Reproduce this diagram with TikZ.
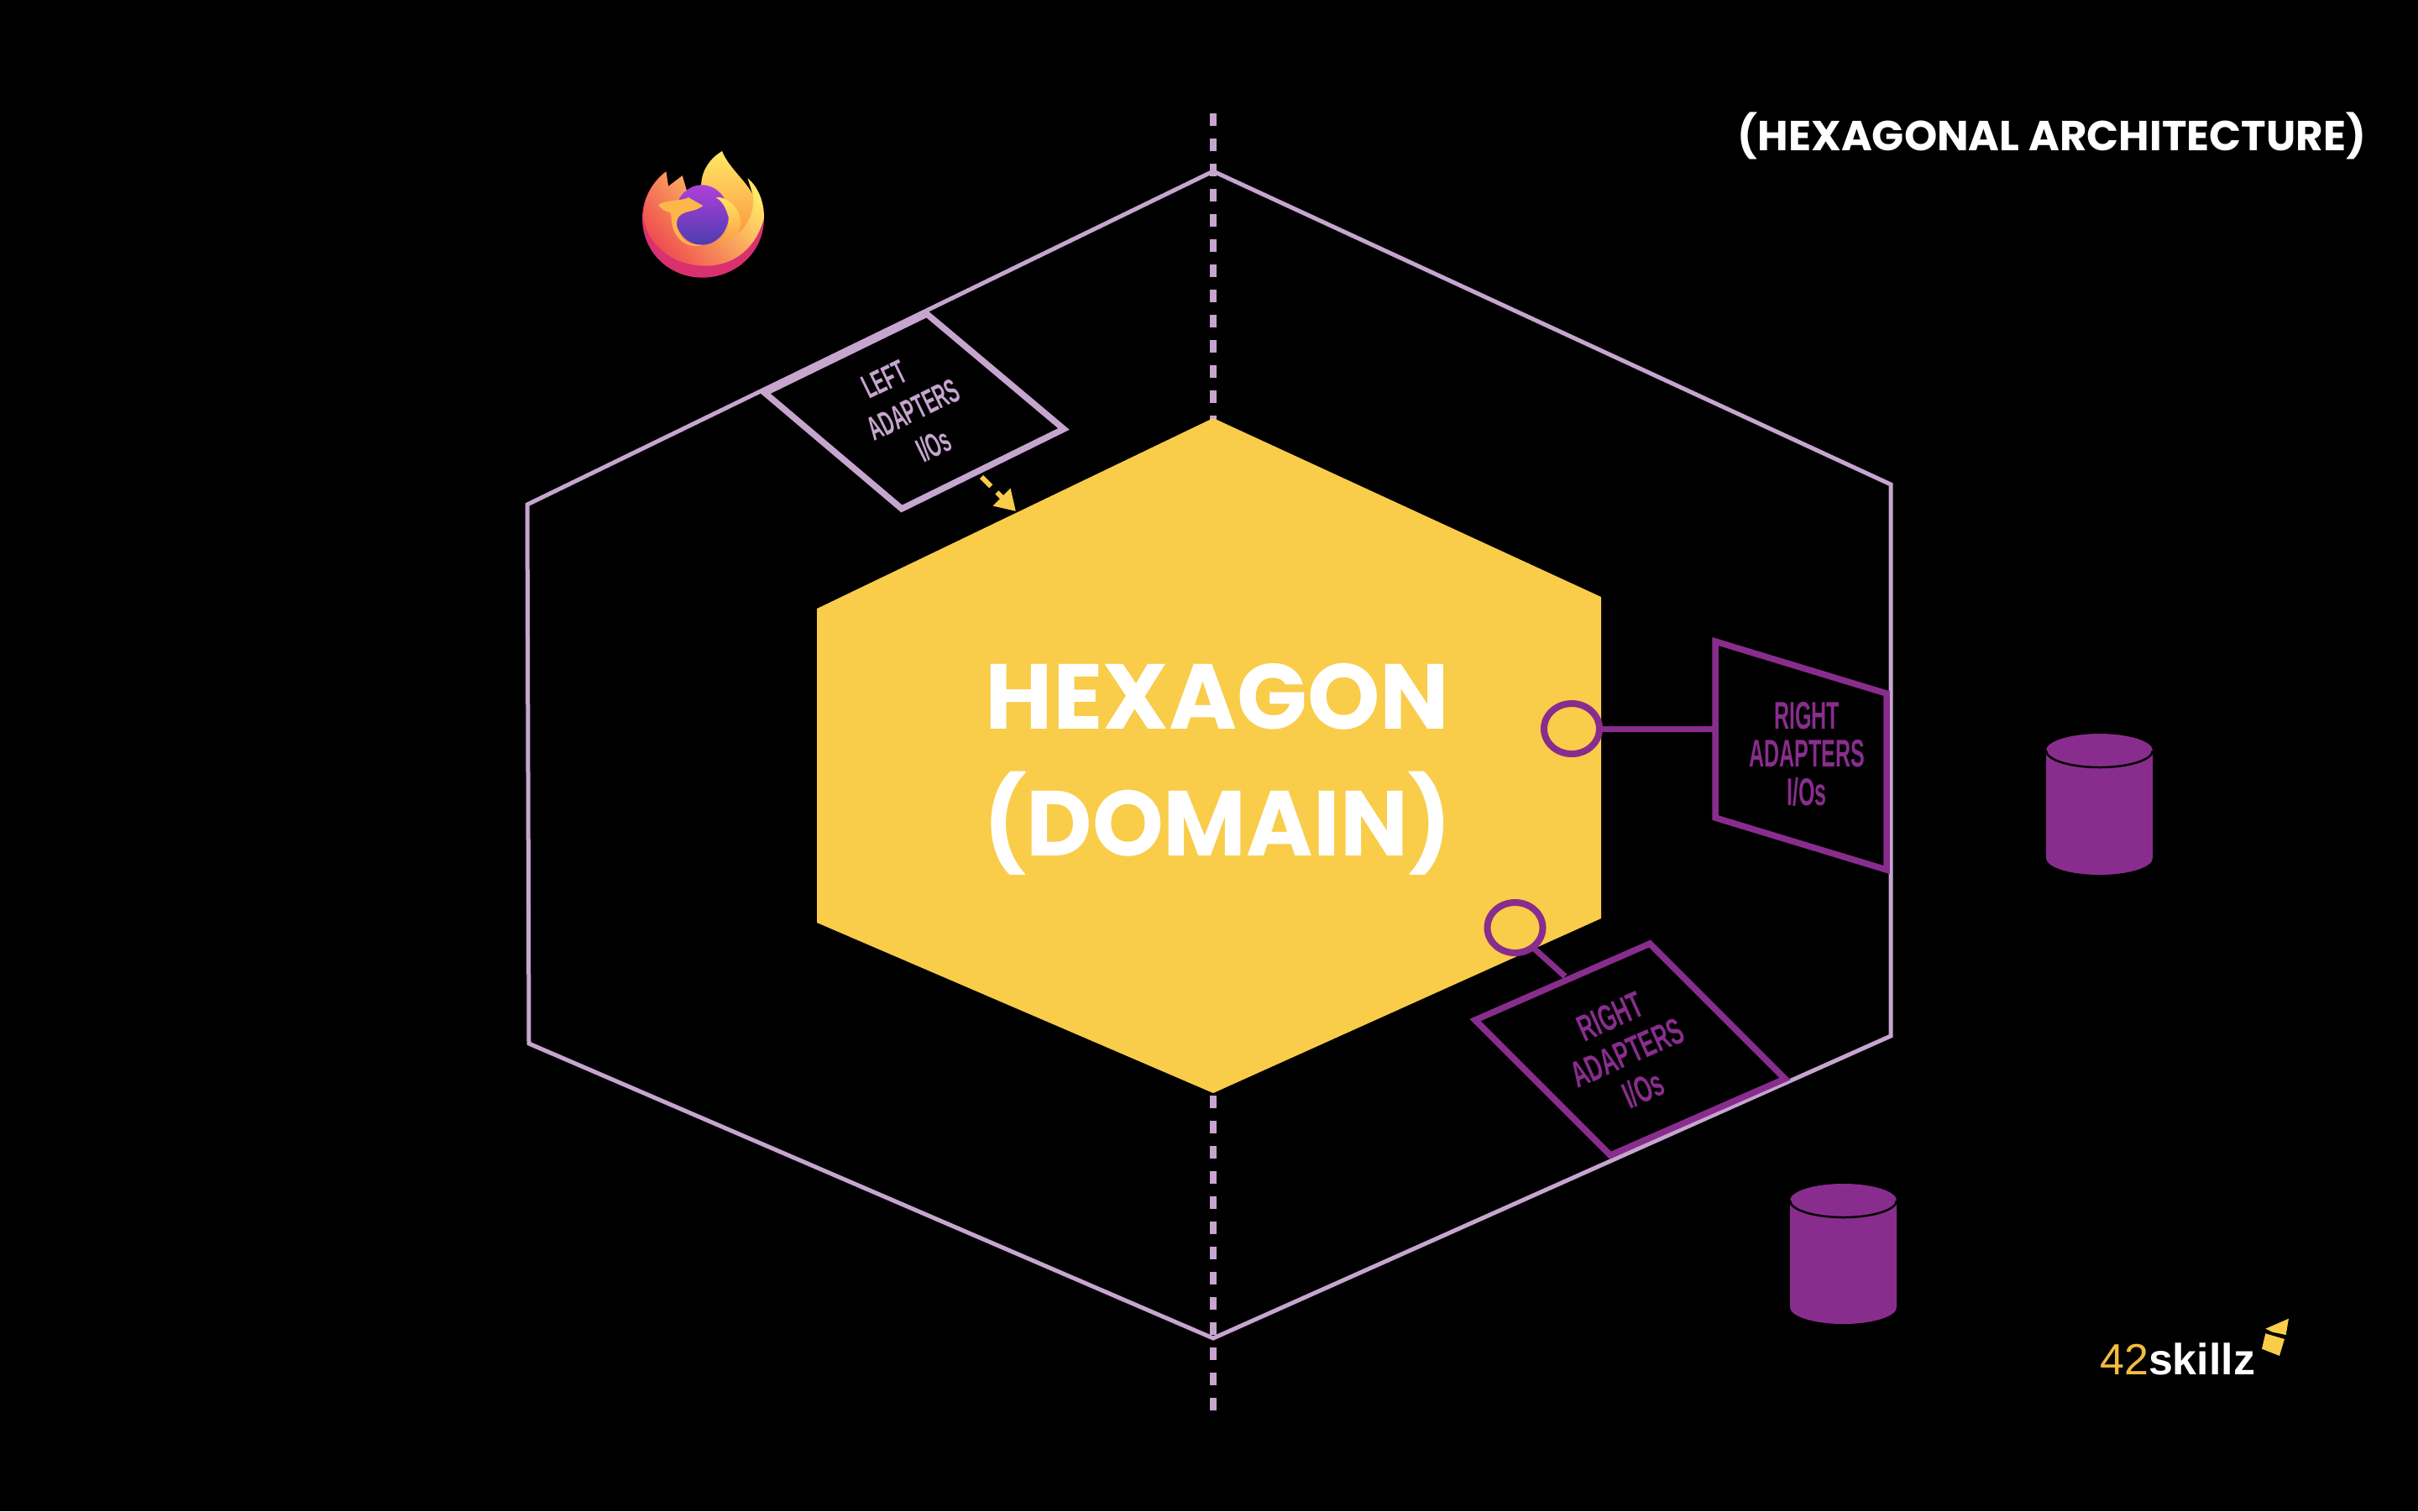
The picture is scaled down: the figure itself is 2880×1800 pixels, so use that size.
\documentclass[tikz,border=0pt]{standalone}
\usepackage{fontspec}
\setmainfont{Liberation Sans}
\newfontfamily\headfont{Poppins}
\usetikzlibrary{shapes.geometric,arrows.meta,calc}
\definecolor{lilac}{HTML}{C6A5CF}
\definecolor{plum}{HTML}{882D8D}
\definecolor{sun}{HTML}{F9CC4A}
\definecolor{brandy}{HTML}{F2BC3E}
\definecolor{ffmag}{HTML}{D9306F}
\definecolor{ffred}{HTML}{EF4A50}
\definecolor{ffor}{HTML}{FB9A42}
\definecolor{ffyel}{HTML}{FFE865}
\definecolor{ffamb}{HTML}{FDB64A}
\definecolor{gltop}{HTML}{B040D8}
\definecolor{glmid}{HTML}{6E5CE8}
\definecolor{glbot}{HTML}{4C3CB0}
\newcommand{\din}[3]{\scalebox{#1}[1]{\fontsize{#2}{#2}\selectfont\bfseries #3}}
\tikzset{
  hexline/.style={draw=lilac,line width=5pt,line join=miter},
  adapterL/.style={draw=lilac,line width=7.5pt,line join=miter},
  adapterR/.style={draw=plum,line width=7.5pt,line join=miter},
  lbl/.style={inner sep=0pt,font=\normalsize},
  port/.style={ellipse,draw=plum,line width=8pt,minimum width=66pt,minimum height=60pt,inner sep=0pt,outer sep=0pt},
  link/.style={draw=plum,line width=7pt},
  axisline/.style={draw=lilac,line width=8pt,dash pattern=on 15pt off 15pt},
  flow/.style={draw=sun,line width=6pt,dash pattern=on 16pt off 10pt,-{Triangle[width=28pt,length=24pt,fill=sun]}},
  headtxt/.style={inner sep=0pt,text=white},
}
\begin{document}
\begin{tikzpicture}[x=1pt,y=-1pt]
\useasboundingbox (0,0) rectangle (2880,1800);
\fill[black] (0,0) rectangle (2880,1800);

% axis
\coordinate (axt) at (1445,135);
\coordinate (axb) at (1445,1682);
\draw[axisline] (axt) -- (axb);

% outer hexagon
\draw[hexline] (1445,204) -- (2252,577) -- (2252,1234) -- (1445,1594) -- (630,1243) -- (628,601) -- cycle;

% domain hexagon
\fill[sun] (1445,498) -- (1907,711) -- (1907,1094) -- (1445,1302) -- (973,1099) -- (973,725) -- cycle;
\node[headtxt,font=\headfont\bfseries\fontsize{110}{110}\selectfont] (hexa) at (1450,830) {HEXAGON};
\node[headtxt,font=\headfont\bfseries\fontsize{110}{110}\selectfont] (doma) at (1450,981) {\scalebox{.98}[1]{(DOMAIN)}};

% title
\node[headtxt,font=\headfont\bfseries\fontsize{50}{50}\selectfont] (title) at (2444,162) {(HEXAGONAL ARCHITECTURE)};

% left adapter
\draw[adapterL] (1104,374) coordinate (la1) -- (1267,511) coordinate (la2) -- (1074,606) coordinate (la3) -- (911,468) coordinate (la4) -- cycle;
\node[lbl,text=lilac,rotate=26] (l1) at (1053,452) {\din{.53}{40}{LEFT}};
\node[lbl,text=lilac,rotate=26] (l2) at (1088,488) {\din{.53}{40}{ADAPTERS}};
\node[lbl,text=lilac,rotate=26] (l3) at (1112,530) {\din{.53}{40}{I/Os}};
\coordinate (fromL) at (1169,568);
\coordinate (toDom) at (1210,609);
\draw[flow] (fromL) -- (toDom);

% right adapter 1
\draw[adapterR] (2043,764) coordinate (ra1) -- (2247,826) coordinate (ra2) -- (2247,1036) coordinate (ra3) -- (2043,974) coordinate (ra4) -- cycle;
\node[lbl,text=plum] (r1) at (2152,853) {\din{.545}{46}{RIGHT}};
\node[lbl,text=plum] (r2) at (2152,898) {\din{.545}{46}{ADAPTERS}};
\node[lbl,text=plum] (r3) at (2152,943) {\din{.545}{46}{I/Os}};
\node[port] (p1) at (1872,868) {};
\coordinate (ra5) at (2043,868);
\draw[link] (p1.east) -- (ra5);

% right adapter 2
\draw[adapterR] (1757,1215) coordinate (rb1) -- (1965,1124) coordinate (rb2) -- (2126,1285) coordinate (rb3) -- (1918,1376) coordinate (rb4) -- cycle;
\node[lbl,text=plum,rotate=24] (s1) at (1918,1211) {\din{.585}{44}{RIGHT}};
\node[lbl,text=plum,rotate=24] (s2) at (1938,1254) {\din{.585}{44}{ADAPTERS}};
\node[lbl,text=plum,rotate=24] (s3) at (1957,1297) {\din{.585}{44}{I/Os}};
\node[port] (p2) at (1804.5,1105) {};
\coordinate (rb5) at (1864,1163);
\draw[link] (p2.-48) -- (rb5);

% cylinders
\fill[plum] (2437,894) arc[start angle=180,end angle=360,x radius=63.5,y radius=20] -- (2564,1022) arc[start angle=0,end angle=180,x radius=63.5,y radius=20] -- cycle;
\draw[black,line width=2.5pt] (2437,894) arc[start angle=180,end angle=0,x radius=63.5,y radius=20];
\fill[plum] (2132,1430) arc[start angle=180,end angle=360,x radius=63.5,y radius=20] -- (2259,1557) arc[start angle=0,end angle=180,x radius=63.5,y radius=20] -- cycle;
\draw[black,line width=2.5pt] (2132,1430) arc[start angle=180,end angle=0,x radius=63.5,y radius=20];

% brand
\node[inner sep=0pt,anchor=base west,font=\fontsize{52}{52}\selectfont,text=brandy] (b42) at (2501,1637) {42\textcolor{white}{\bfseries skillz}};
\begin{scope}[shift={(2440,1540)},x=.3333pt,y=-.3333pt]
\fill[sun] (775,128) -- (858,92) -- (848,150) -- (800,140) -- cycle;
\fill[sun] (775,145) -- (843,165) -- (825,225) -- (762,200) -- cycle;
\end{scope}

% browser logo
\begin{scope}[shift={(740,160)},x=.3333pt,y=-.3333pt]
% magenta base
\fill[ffmag] (160,133) .. controls (105,175) and (75,235) .. (75,300) .. controls (75,420) and (170,512) .. (290,512) .. controls (410,512) and (510,420) .. (510,300) .. controls (510,240) and (490,190) .. (452,157) -- (470,215) -- (300,300) -- (235,205) -- (218,148) -- (168,186) -- cycle;
% main body
\shade[top color=ffyel,middle color=ffor,bottom color=ffred,shading angle=-50] (160,133) .. controls (105,175) and (78,235) .. (78,300) .. controls (95,400) and (190,470) .. (300,470) .. controls (400,470) and (480,410) .. (510,300) .. controls (510,240) and (490,190) .. (452,157) -- (470,215) -- (300,300) -- (235,205) -- (218,148) -- (168,186) -- cycle;
% back flame
\shade[top color=ffyel,bottom color=ffor] (360,60) .. controls (320,85) and (285,125) .. (285,190) -- (420,352) .. controls (455,320) and (478,270) .. (470,215) .. controls (440,160) and (385,120) .. (360,60) -- cycle;
% globe
\shade[top color=gltop,middle color=glmid,bottom color=glbot] (288,288) ellipse[x radius=96,y radius=107];
% fox head and collar
\fill[ffamb] (132,252) .. controls (165,232) and (215,240) .. (240,225) .. controls (255,235) and (275,245) .. (292,255) .. controls (262,280) and (225,270) .. (205,295) .. controls (190,320) and (200,345) .. (222,372) .. controls (245,395) and (265,395) .. (290,395) .. controls (240,410) and (195,380) .. (182,325) .. controls (178,305) and (180,285) .. (175,280) .. controls (155,275) and (140,265) .. cycle;
% curl
\shade[top color=ffyel,bottom color=ffor] (338,225) .. controls (375,222) and (415,255) .. (425,300) .. controls (430,325) and (425,340) .. (415,355) .. controls (395,375) and (370,385) .. (345,392) .. controls (380,365) and (395,320) .. (378,280) .. controls (370,255) and (355,235) .. cycle;
\end{scope}
\end{tikzpicture}
\end{document}
